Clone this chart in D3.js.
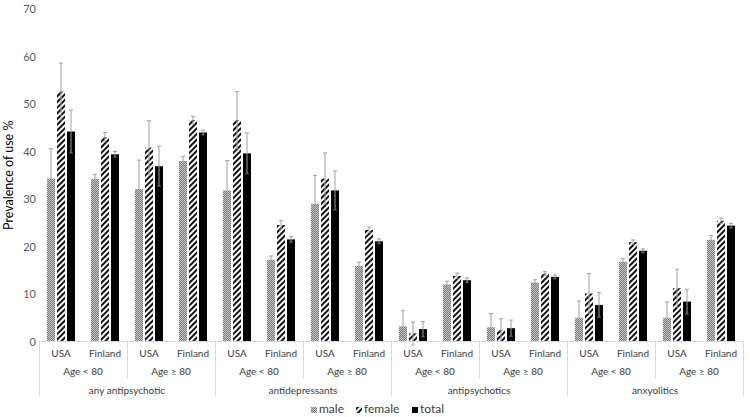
<!DOCTYPE html>
<html><head><meta charset="utf-8">
<script src="https://cdn.jsdelivr.net/npm/d3@7"></script>
<style>
body{margin:0;background:#fff;}
text{font-family:Lato,"Open Sans",sans-serif;}
</style>
</head><body>
<svg id="c" width="750" height="417"></svg>
<script>
const drugs = ["any antipsychotic","antidepressants","antipsychotics","anxyolitics"];
const ages = ["Age < 80","Age \u2265 80"];
const countries = ["USA","Finland"];
const seriesNames = ["male","female","total"];
const male      = [34.3,34.2,32.1,38.0,31.8,17.2,29.0,15.9,3.2,12.0,3.0,12.4,5.0,16.8,5.0,21.4];
const maleErr   = [6.3,1.0,6.1,1.0,6.3,0.8,6.0,0.8,3.3,0.7,2.9,0.6,3.5,0.7,3.3,0.9];
const female    = [52.6,43.0,40.8,46.6,46.6,24.5,34.3,23.5,1.7,13.8,2.4,14.3,10.1,20.9,11.2,25.4];
const femaleErr = [6.0,1.0,5.7,0.8,6.0,1.0,5.4,0.6,2.4,0.6,2.4,0.4,4.2,0.5,4.0,0.6];
const total     = [44.2,39.4,36.9,44.0,39.6,21.5,31.8,21.1,2.6,12.9,2.8,13.6,7.7,19.1,8.4,24.4];
const totalErr  = [4.5,0.6,4.2,0.5,4.3,0.6,4.1,0.5,1.6,0.5,1.7,0.4,2.6,0.4,2.6,0.5];
const yTicks = [0,10,20,30,40,50,60,70];
const yTitle = "Prevalence of use %";

const svg = d3.select("#c");
const defs = svg.append("defs");
// male: fine gray checker
const pm = defs.append("pattern").attr("id","pm").attr("patternUnits","userSpaceOnUse").attr("width",2).attr("height",2);
pm.append("rect").attr("width",2).attr("height",2).attr("fill","#c8c8c8");
pm.append("rect").attr("width",1).attr("height",1).attr("fill","#7a7a7a");
pm.append("rect").attr("x",1).attr("y",1).attr("width",1).attr("height",1).attr("fill","#7a7a7a");
// female: wide upward diagonal
const pf = defs.append("pattern").attr("id","pf").attr("patternUnits","userSpaceOnUse").attr("width",4).attr("height",4).attr("patternTransform","rotate(45)");
pf.append("rect").attr("width",4).attr("height",4).attr("fill","#fff");
pf.append("rect").attr("width",2).attr("height",4).attr("fill","#111");

const fills = {male:"url(#pm)", female:"url(#pf)", total:"#000"};
const values = {male, female, total};
const errs = {male:maleErr, female:femaleErr, total:totalErr};

const idx = d3.range(drugs.length*ages.length*countries.length);
const x0 = d3.scaleBand().domain(idx).range([39,743]).paddingInner(0).paddingOuter(0);
const bw = x0.bandwidth();
const x1 = d3.scaleBand().domain(seriesNames).range([bw/2-14,bw/2+14]).paddingInner(0.2).paddingOuter(0);
const y = d3.scaleLinear().domain([0,70]).range([341.5,9]);

// y tick labels
const yAxis = svg.append("g").attr("transform","translate(36,0)")
  .call(d3.axisLeft(y).tickValues(yTicks).tickSize(0).tickPadding(0));
yAxis.select(".domain").remove();
yAxis.selectAll("text").attr("font-size",11).attr("fill","#595959").style("font-family","Lato,sans-serif");

svg.append("text").attr("transform",`translate(10,${(y(0)+y(70))/2}) rotate(-90)`)
  .attr("text-anchor","middle").attr("dominant-baseline","middle")
  .attr("font-size",12.5).attr("fill","#000").text(yTitle);

// bars
const groups = svg.append("g").selectAll("g").data(idx).join("g")
  .attr("transform",i=>`translate(${x0(i)},0)`);
seriesNames.forEach(s=>{
  groups.append("rect").attr("x",x1(s)).attr("width",x1.bandwidth())
    .attr("y",i=>y(values[s][i])).attr("height",i=>y(0)-y(values[s][i]))
    .attr("fill",fills[s]);
});
// error bars
seriesNames.forEach(s=>{
  const cx = x1(s)+x1.bandwidth()/2;
  groups.append("line").attr("x1",cx).attr("x2",cx)
    .attr("y1",i=>y(values[s][i]-errs[s][i])).attr("y2",i=>y(values[s][i]+errs[s][i]))
    .attr("stroke","#a0a0a0").attr("stroke-width",1);
  groups.append("line").attr("x1",cx-2).attr("x2",cx+2)
    .attr("y1",i=>y(values[s][i]+errs[s][i])).attr("y2",i=>y(values[s][i]+errs[s][i]))
    .attr("stroke","#a0a0a0").attr("stroke-width",1);
  groups.append("line").attr("x1",cx-2).attr("x2",cx+2)
    .attr("y1",i=>y(values[s][i]-errs[s][i])).attr("y2",i=>y(values[s][i]-errs[s][i]))
    .attr("stroke","#a0a0a0").attr("stroke-width",1).attr("opacity",0.6);
});

// x axis line
const ax = svg.append("g");
ax.append("line").attr("x1",x0.range()[0]).attr("x2",x0.range()[1]).attr("y1",y(0)).attr("y2",y(0))
  .attr("stroke","#d9d9d9");
// separators
idx.concat([idx.length]).forEach(i=>{
  const xx = i<idx.length ? x0(i) : x0.range()[1];
  let y2 = null;
  if(i%4===0) y2 = 396; else if(i%2===0) y2 = 378;
  if(y2) ax.append("line").attr("x1",xx+0.5).attr("x2",xx+0.5).attr("y1",y(0)).attr("y2",y2).attr("stroke","#d9d9d9");
});
// labels
const lab = {fill:"#404040"};
idx.forEach(i=>{
  ax.append("text").attr("x",x0(i)+bw/2).attr("y",354).attr("text-anchor","middle")
    .attr("dominant-baseline","middle").attr("font-size",10).attr("fill",lab.fill)
    .text(countries[i%2]);
});
d3.range(drugs.length*ages.length).forEach(j=>{
  ax.append("text").attr("x",x0(j*2)+bw).attr("y",372).attr("text-anchor","middle")
    .attr("dominant-baseline","middle").attr("font-size",10).attr("fill",lab.fill)
    .text(ages[j%2]);
});
drugs.forEach((d,k)=>{
  ax.append("text").attr("x",x0(k*4)+bw*2).attr("y",391).attr("text-anchor","middle")
    .attr("dominant-baseline","middle").attr("font-size",10).attr("fill",lab.fill)
    .text(d);
});

// legend
const legX = [311,356,412];
const leg = svg.append("g");
seriesNames.forEach((s,k)=>{
  leg.append("rect").attr("x",legX[k]).attr("y",407).attr("width",6).attr("height",6).attr("fill",fills[s]);
  leg.append("text").attr("x",legX[k]+8).attr("y",410).attr("dominant-baseline","middle")
    .attr("font-size",12).attr("fill","#404040").text(s);
});
</script>
</body></html>
